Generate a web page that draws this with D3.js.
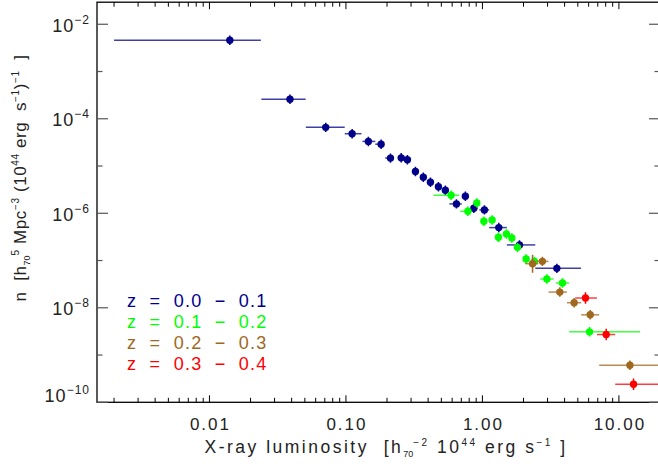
<!DOCTYPE html>
<html>
<head>
<meta charset="utf-8">
<script src="https://cdn.jsdelivr.net/npm/d3@7"></script>
<style>
  body { margin: 0; background: #fff; }
  svg { display: block; font-family: "Liberation Sans", Arial, sans-serif; }
</style>
</head>
<body>
<div id="chart"></div>
<script>
// Datos: L en 10^44 erg/s, n en Mpc^-3 (10^44 erg/s)^-1

// z = 0.0 - 0.1
const lumZ0 = [0.0141, 0.0389, 0.0711, 0.111, 0.146, 0.181, 0.212, 0.254, 0.282, 0.323, 0.369,
               0.416, 0.476, 0.535, 0.75, 0.645, 0.865, 1.034, 1.318, 1.868, 3.51];
const denZ0 = [4.6e-3, 2.58e-4, 6.58e-5, 4.83e-5, 3.32e-5, 2.9e-5, 1.47e-5, 1.49e-5, 1.36e-5, 7.66e-6, 5.8e-6,
               4.55e-6, 3.63e-6, 3.08e-6, 2.29e-6, 1.58e-6, 1.28e-6, 1.18e-6, 4.98e-7, 2.14e-7, 6.83e-8];
const lumLoZ0 = [0.0020, 0.024, 0.0508, 0.098, 0.132, 0.164, 0.194, 0.24, 0.27, 0.31, 0.355,
                 0.40, 0.46, 0.52, 0.73, 0.573, 0.82, 0.95, 1.12, 1.51, 2.44];
const lumHiZ0 = [0.0238, 0.0507, 0.098, 0.130, 0.164, 0.187, 0.223, 0.27, 0.295, 0.335, 0.383,
                 0.43, 0.49, 0.55, 0.78, 0.706, 0.92, 1.12, 1.51, 2.44, 5.27];
const errZ0 = [0.1, 0.1, 0.1, 0.1, 0.1, 0.1, 0.1, 0.1, 0.1, 0.1, 0.1,
               0.1, 0.1, 0.1, 0.1, 0.1, 0.1, 0.1, 0.1, 0.1, 0.1];

// z = 0.1 - 0.2
const lumZ1 = [0.589, 0.91, 0.782, 1.024, 1.178, 1.31, 1.5, 1.643, 1.806, 2.09, 2.405, 2.965, 3.86, 6.09];
const denZ1 = [2.41e-6, 1.66e-6, 1.1e-6, 6.76e-7, 7.24e-7, 3.1e-7, 3.66e-7, 3.01e-7, 1.9e-7, 1.08e-7,
               9.6e-8, 4.06e-8, 3.34e-8, 3.1e-9];
const lumLoZ1 = [0.437, 0.88, 0.686, 0.99, 1.14, 1.27, 1.45, 1.59, 1.75, 2.02, 2.33, 2.65, 3.45, 4.32];
const lumHiZ1 = [0.675, 0.94, 0.836, 1.06, 1.22, 1.35, 1.55, 1.70, 1.86, 2.16, 2.48, 3.32, 4.32, 14.3];
const errZ1 = [0.1, 0.1, 0.1, 0.1, 0.1, 0.1, 0.1, 0.1, 0.1, 0.1, 0.1, 0.1, 0.1, 0.1];

// z = 0.2 - 0.3
const lumZ2 = [2.33, 2.75, 3.69, 4.7, 6.16, 12.04];
const denZ2 = [8.57e-8, 9.6e-8, 2.15e-8, 1.28e-8, 7.1e-9, 6.1e-10];
const lumLoZ2 = [2.06, 2.5, 3.05, 4.16, 5.29, 7.17];
const lumHiZ2 = [2.57, 3.05, 4.16, 5.29, 7.17, 25];
const errZ2 = [0.19, 0.1, 0.1, 0.1, 0.1, 0.1];

// z = 0.3 - 0.4
const lumZ3 = [5.69, 8.07, 12.8];
const denZ3 = [1.61e-8, 2.72e-9, 2.41e-10];
const lumLoZ3 = [4.78, 6.9, 9.4];
const lumHiZ3 = [6.9, 9.4, 25];
const errZ3 = [0.12, 0.12, 0.12];

const legendLabels = ["z = 0.0 − 0.1", "z = 0.1 − 0.2", "z = 0.2 − 0.3", "z = 0.3 − 0.4"];
const seriesColors = ["#00008b", "#00ff00", "#a0681c", "#ff0000"];

const xMajor = [0.01, 0.1, 1, 10];
const xTickLabels = ["0.01", "0.10", "1.00", "10.00"];
const yMajorExp = [-2, -4, -6, -8, -10];
const yMinorExp = [-3, -5, -7, -9];

// Armar series
const groups = [
  [lumZ0, denZ0, lumLoZ0, lumHiZ0, errZ0],
  [lumZ1, denZ1, lumLoZ1, lumHiZ1, errZ1],
  [lumZ2, denZ2, lumLoZ2, lumHiZ2, errZ2],
  [lumZ3, denZ3, lumLoZ3, lumHiZ3, errZ3]
].map((g, k) => g[0].map((L, i) => ({
  L, n: g[1][i], lo: g[2][i], hi: g[3][i], e: g[4][i], color: seriesColors[k]
})));

// Parámetros
const W = 658, H = 466;
const plot = { left: 97, right: 660, top: 2.2, bottom: 402.3 };

const svg = d3.select("#chart").append("svg")
  .attr("width", W)
  .attr("height", H);

const x = d3.scaleLog().domain([0.0015, 20]).range([plot.left, plot.right]);
const y = d3.scaleLog().domain([1e-10, 0.0293]).range([plot.bottom, plot.top]);

svg.append("clipPath").attr("id", "clip")
  .append("rect")
    .attr("x", plot.left).attr("y", plot.top)
    .attr("width", plot.right - plot.left).attr("height", plot.bottom - plot.top);

// Marco
svg.append("rect")
  .attr("x", plot.left).attr("y", plot.top)
  .attr("width", plot.right - plot.left).attr("height", plot.bottom - plot.top)
  .style("fill", "none")
  .style("stroke", "#000")
  .style("stroke-width", 1.3);

// Ticks en X (abajo y arriba)
const xMinor = [];
for (let e = -3; e <= 1; e++) for (let m = 2; m <= 9; m++) {
  const v = m * Math.pow(10, e);
  if (v > 0.0015 && v < 20) xMinor.push(v);
}
const xt = svg.append("g").style("stroke", "#000").style("stroke-width", 1);
[[xMajor, 7], [xMinor, 4.5]].forEach(([vals, len]) => {
  vals.forEach(v => {
    xt.append("line").attr("x1", x(v)).attr("x2", x(v))
      .attr("y1", plot.bottom).attr("y2", plot.bottom - len);
    xt.append("line").attr("x1", x(v)).attr("x2", x(v))
      .attr("y1", plot.top).attr("y2", plot.top + len);
  });
});

svg.append("g").selectAll("text")
  .data(xMajor)
  .enter().append("text")
    .attr("x", d => x(d) + 1)
    .attr("y", 430)
    .attr("text-anchor", "middle")
    .style("font-size", "17px")
    .style("letter-spacing", "2px")
    .style("fill", "#222")
    .text((d, i) => xTickLabels[i]);

// Ticks en Y (izquierda y derecha)
const yt = svg.append("g").style("stroke", "#555").style("stroke-width", 1.2);
[[yMajorExp, 11], [yMinorExp, 5.5]].forEach(([vals, len]) => {
  vals.forEach(e => {
    const py = y(Math.pow(10, e));
    yt.append("line").attr("x1", plot.left).attr("x2", plot.left + len).attr("y1", py).attr("y2", py);
    yt.append("line").attr("x1", plot.right).attr("x2", plot.right - len).attr("y1", py).attr("y2", py);
  });
});

yMajorExp.forEach(e => {
  const py = Math.min(y(Math.pow(10, e)) + 7.5, 402);
  const t = svg.append("text")
    .attr("x", 90)
    .attr("y", py)
    .attr("text-anchor", "end")
    .style("font-size", "18px")
    .style("letter-spacing", "1px")
    .style("fill", "#222");
  t.append("tspan").text("10");
  t.append("tspan").attr("dy", -8).style("font-size", "12px").text("−" + (-e));
});

// Etiqueta eje X
const xl = svg.append("text")
  .attr("x", 386)
  .attr("y", 453)
  .attr("text-anchor", "middle")
  .style("font-size", "17.5px")
  .style("letter-spacing", "2.5px")
  .style("fill", "#222")
  .attr("xml:space", "preserve");
xl.append("tspan").text("X-ray luminosity  [h");
xl.append("tspan").attr("dy", 4).style("font-size", "9px").style("letter-spacing", "0px").text("70");
xl.append("tspan").attr("dy", -11).style("font-size", "10px").text("−2");
xl.append("tspan").attr("dy", 7).text(" 10");
xl.append("tspan").attr("dy", -7).style("font-size", "10px").text("44");
xl.append("tspan").attr("dy", 7).text(" erg s");
xl.append("tspan").attr("dy", -7).style("font-size", "10px").text("−1");
xl.append("tspan").attr("dy", 7).text(" ]");

// Etiqueta eje Y
const yl = svg.append("text")
  .attr("transform", "translate(26,178) rotate(-90)")
  .attr("text-anchor", "middle")
  .style("font-size", "17px")
  .style("letter-spacing", "0.6px")
  .style("fill", "#222")
  .attr("xml:space", "preserve");
yl.append("tspan").text("n  [h");
yl.append("tspan").attr("dy", 4).style("font-size", "9px").style("letter-spacing", "0px").text("70");
yl.append("tspan").attr("dy", -11).style("font-size", "10px").text("5");
yl.append("tspan").attr("dy", 7).text(" Mpc");
yl.append("tspan").attr("dy", -7).style("font-size", "10px").text("−3");
yl.append("tspan").attr("dy", 7).text(" (10");
yl.append("tspan").attr("dy", -7).style("font-size", "10px").text("44");
yl.append("tspan").attr("dy", 7).text(" erg  s");
yl.append("tspan").attr("dy", -7).style("font-size", "10px").text("−1");
yl.append("tspan").attr("dy", 7).text(")");
yl.append("tspan").attr("dy", -7).style("font-size", "10px").text("−1");
yl.append("tspan").attr("dy", 7).text("  ]");

// Puntos con barras de error
const marks = svg.append("g").attr("clip-path", "url(#clip)");
groups.forEach(pts => {
  const g = marks.append("g");
  g.selectAll("line.xerr")
    .data(pts)
    .enter().append("line")
      .attr("class", "xerr")
      .attr("x1", d => x(d.lo)).attr("x2", d => x(d.hi))
      .attr("y1", d => y(d.n)).attr("y2", d => y(d.n))
      .style("stroke", d => d.color)
      .style("stroke-width", 1.5)
      .style("opacity", 0.75);
  g.selectAll("line.yerr")
    .data(pts)
    .enter().append("line")
      .attr("class", "yerr")
      .attr("x1", d => x(d.L)).attr("x2", d => x(d.L))
      .attr("y1", d => y(d.n * Math.pow(10, d.e))).attr("y2", d => y(d.n / Math.pow(10, d.e)))
      .style("stroke", d => d.color)
      .style("stroke-width", 1.5);
  g.selectAll("circle")
    .data(pts)
    .enter().append("circle")
      .attr("cx", d => x(d.L))
      .attr("cy", d => y(d.n))
      .attr("r", 3.7)
      .style("fill", d => d.color);
});

// Leyenda
svg.append("g").selectAll("text")
  .data(legendLabels)
  .enter().append("text")
    .attr("x", 127)
    .attr("y", (d, i) => 307 + i * 21)
    .style("font-size", "18px")
    .style("letter-spacing", "1.2px")
    .style("fill", (d, i) => seriesColors[i])
    .attr("xml:space", "preserve")
    .text(d => d.replace(/ /g, "  "));
</script>
</body>
</html>
